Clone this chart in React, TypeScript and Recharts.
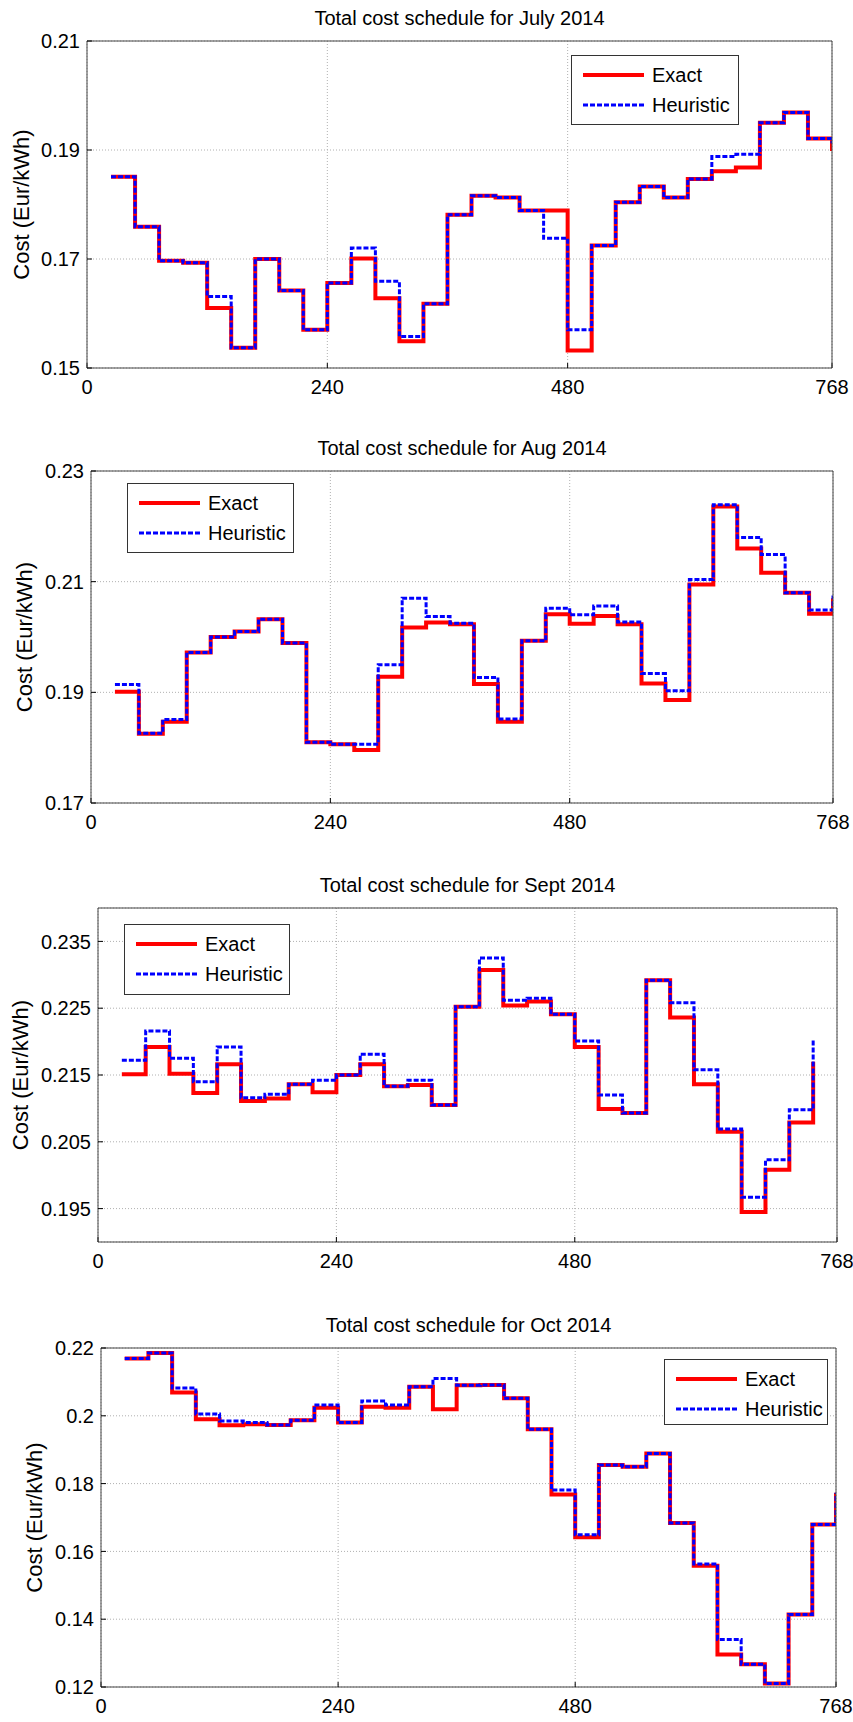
import React from 'react';
import { LineChart, Line, XAxis, YAxis, CartesianGrid } from 'recharts';

// hour marks (start of each daily step; last point closes the stairs)
const hours31 = [24, 48, 72, 96, 120, 144, 168, 192, 216, 240, 264, 288, 312, 336, 360, 384, 408, 432, 456, 480, 504, 528, 552, 576, 600, 624, 648, 672, 696, 720, 744];
const hours30 = [24, 48, 72, 96, 120, 144, 168, 192, 216, 240, 264, 288, 312, 336, 360, 384, 408, 432, 456, 480, 504, 528, 552, 576, 600, 624, 648, 672, 696, 720];

const julyExact = [0.1851, 0.1759, 0.1697, 0.1693, 0.1610, 0.1537, 0.1700, 0.1642, 0.1570, 0.1656, 0.1701, 0.1628, 0.1549, 0.1618, 0.1781, 0.1816, 0.1813, 0.1789, 0.1789, 0.1532, 0.1725, 0.1804, 0.1833, 0.1813, 0.1847, 0.1861, 0.1868, 0.1950, 0.1969, 0.1921, 0.1898];
const julyHeuristic = [0.1851, 0.1759, 0.1697, 0.1693, 0.1631, 0.1537, 0.1700, 0.1642, 0.1570, 0.1656, 0.1720, 0.1659, 0.1558, 0.1618, 0.1781, 0.1816, 0.1813, 0.1789, 0.1738, 0.1570, 0.1725, 0.1804, 0.1833, 0.1813, 0.1847, 0.1888, 0.1892, 0.1950, 0.1969, 0.1921, 0.1912];

const augExact = [0.1901, 0.1825, 0.1847, 0.1972, 0.2000, 0.2010, 0.2032, 0.1989, 0.1810, 0.1806, 0.1796, 0.1928, 0.2017, 0.2026, 0.2023, 0.1915, 0.1847, 0.1993, 0.2041, 0.2024, 0.2038, 0.2023, 0.1916, 0.1886, 0.2095, 0.2236, 0.2160, 0.2116, 0.2080, 0.2042, 0.2070];
const augHeuristic = [0.1914, 0.1826, 0.1851, 0.1972, 0.2000, 0.2010, 0.2032, 0.1989, 0.1810, 0.1806, 0.1806, 0.1950, 0.2070, 0.2037, 0.2025, 0.1927, 0.1852, 0.1993, 0.2052, 0.2040, 0.2056, 0.2027, 0.1934, 0.1903, 0.2104, 0.2239, 0.2180, 0.2149, 0.2080, 0.2049, 0.2075];

const septExact = [0.2151, 0.2192, 0.2152, 0.2123, 0.2166, 0.2111, 0.2115, 0.2136, 0.2124, 0.2150, 0.2166, 0.2133, 0.2135, 0.2105, 0.2252, 0.2307, 0.2254, 0.2260, 0.2241, 0.2192, 0.2099, 0.2093, 0.2292, 0.2236, 0.2136, 0.2065, 0.1945, 0.2008, 0.2079, 0.2170];
const septHeuristic = [0.2172, 0.2216, 0.2175, 0.2140, 0.2192, 0.2116, 0.2121, 0.2136, 0.2142, 0.2150, 0.2181, 0.2133, 0.2142, 0.2105, 0.2252, 0.2325, 0.2262, 0.2265, 0.2241, 0.2201, 0.2120, 0.2093, 0.2292, 0.2258, 0.2158, 0.2069, 0.1967, 0.2023, 0.2098, 0.2202];

const octExact = [0.2169, 0.2185, 0.2069, 0.1990, 0.1972, 0.1975, 0.1973, 0.1987, 0.2024, 0.1980, 0.2027, 0.2024, 0.2086, 0.2019, 0.2090, 0.2091, 0.2052, 0.1960, 0.1768, 0.1642, 0.1855, 0.1850, 0.1889, 0.1684, 0.1558, 0.1296, 0.1267, 0.1210, 0.1414, 0.1679, 0.1773];
const octHeuristic = [0.2169, 0.2185, 0.2082, 0.2005, 0.1985, 0.1980, 0.1973, 0.1987, 0.2032, 0.1980, 0.2044, 0.2032, 0.2086, 0.2110, 0.2090, 0.2091, 0.2052, 0.1960, 0.1781, 0.1649, 0.1855, 0.1850, 0.1889, 0.1684, 0.1563, 0.1340, 0.1267, 0.1210, 0.1414, 0.1679, 0.1773];

const xTickValues = [0, 240, 480, 744];
const xTickLabels = ['0', '240', '480', '768'];

const yTicksJuly = [0.15, 0.17, 0.19, 0.21];
const yLabelsJuly = ['0.15', '0.17', '0.19', '0.21'];
const yTicksAug = [0.17, 0.19, 0.21, 0.23];
const yLabelsAug = ['0.17', '0.19', '0.21', '0.23'];
const yTicksSept = [0.195, 0.205, 0.215, 0.225, 0.235];
const yLabelsSept = ['0.195', '0.205', '0.215', '0.225', '0.235'];
const yTicksOct = [0.12, 0.14, 0.16, 0.18, 0.2, 0.22];
const yLabelsOct = ['0.12', '0.14', '0.16', '0.18', '0.2', '0.22'];

const titles = [
  'Total cost schedule for July 2014',
  'Total cost schedule for Aug 2014',
  'Total cost schedule for Sept 2014',
  'Total cost schedule for Oct 2014',
];
const seriesNames = ['Exact', 'Heuristic'];
const yAxisTitle = 'Cost (Eur/kWh)';

const FONT = '"Liberation Sans", Arial, Helvetica, sans-serif';
const W = 853;

function buildRows(hours: number[], exact: number[], heur: number[]) {
  return hours.map((h, i) => ({ h, exact: exact[i], heuristic: heur[i] }));
}

type PanelProps = {
  title: string;
  rows: any[];
  domain: [number, number];
  yTicks: number[];
  yLabels: string[];
  L: number; R: number; T: number; B: number;
  labelX: number;
  legend: { left: number; top: number; width: number; height: number };
};

function Legend({ left, top, width, height }: PanelProps['legend']) {
  return (
    <div style={{ position: 'absolute', left, top, width, height, boxSizing: 'border-box', border: '1px solid #333', background: '#fff', fontFamily: FONT, fontSize: 20, color: '#000' }}>
      <svg width={width} height={height} style={{ position: 'absolute', left: -1, top: -1 }}>
        <line x1={12} x2={73} y1={20} y2={20} stroke="#ff0000" strokeWidth={4} />
        <line x1={12} x2={73} y1={50} y2={50} stroke="#0000ff" strokeWidth={3} strokeDasharray="5 2" />
        <text x={81} y={27} fontFamily={FONT} fontSize={20} fill="#000">{seriesNames[0]}</text>
        <text x={81} y={57} fontFamily={FONT} fontSize={20} fill="#000">{seriesNames[1]}</text>
      </svg>
    </div>
  );
}

function Panel(p: PanelProps) {
  const mTop = 39;
  const topAxisH = 1;
  const bottomAxisH = 40;
  const mBottom = 20;
  const rightAxisW = 1;
  const h = p.B - p.T + mTop + topAxisH + bottomAxisH + mBottom;
  const top = p.T - mTop - topAxisH;
  const yLabelContent = (props: any) => {
    const vb = props.viewBox || {};
    const cy = (vb.y ?? (mTop + topAxisH)) + (vb.height ?? (p.B - p.T)) / 2;
    return (
      <text x={p.labelX} y={cy} transform={`rotate(-90, ${p.labelX}, ${cy})`} textAnchor="middle" fontFamily={FONT} fontSize={22} fill="#000">
        {yAxisTitle}
      </text>
    );
  };
  const tickStyle = { fontFamily: FONT, fontSize: 20, fill: '#000' };
  return (
    <>
      <div style={{ position: 'absolute', left: p.L, width: p.R - p.L, top: p.T - 40 + 7, lineHeight: '20px', textAlign: 'center', fontFamily: FONT, fontSize: 20, color: '#000', whiteSpace: 'nowrap' }}>
        {p.title}
      </div>
      <div style={{ position: 'absolute', left: 0, top }}>
        <LineChart width={W} height={h} data={p.rows} style={{ overflow: 'visible' }} margin={{ top: mTop, right: W - p.R - rightAxisW, bottom: mBottom, left: 0 }}>
          <CartesianGrid stroke="#b0b0b0" strokeDasharray="1 2" horizontal vertical />
          <XAxis
            dataKey="h"
            type="number"
            domain={[0, 744]}
            ticks={xTickValues}
            tickFormatter={(v: number, i: number) => xTickLabels[i] ?? String(v)}
            height={bottomAxisH}
            axisLine={{ stroke: '#444' }}
            tickLine={{ stroke: '#000' }}
            tickSize={-5}
            tickMargin={17}
            tick={tickStyle}
            interval={0}
            allowDataOverflow
          />
          <XAxis
            xAxisId="top"
            orientation="top"
            dataKey="h"
            type="number"
            domain={[0, 744]}
            ticks={xTickValues}
            height={topAxisH}
            tick={false}
            axisLine={{ stroke: '#444' }}
            tickLine={{ stroke: '#000' }}
            tickSize={-5}
            interval={0}
            allowDataOverflow
          />
          <YAxis
            type="number"
            domain={p.domain}
            ticks={p.yTicks}
            tickFormatter={(v: number, i: number) => p.yLabels[i] ?? String(v)}
            width={p.L}
            axisLine={{ stroke: '#444' }}
            tickLine={{ stroke: '#000' }}
            tickSize={-5}
            tickMargin={12}
            tick={tickStyle}
            interval={0}
            allowDataOverflow
            label={{ content: yLabelContent }}
          />
          <YAxis
            yAxisId="r"
            orientation="right"
            type="number"
            domain={p.domain}
            ticks={p.yTicks}
            width={rightAxisW}
            tick={false}
            axisLine={{ stroke: '#444' }}
            tickLine={{ stroke: '#000' }}
            tickSize={-5}
            interval={0}
            allowDataOverflow
          />
          <Line type="stepAfter" dataKey="exact" name={seriesNames[0]} stroke="#ff0000" strokeWidth={4} dot={false} activeDot={false} isAnimationActive={false} strokeLinejoin="miter" />
          <Line type="stepAfter" dataKey="heuristic" name={seriesNames[1]} stroke="#0000ff" strokeWidth={3} strokeDasharray="5 2" dot={false} activeDot={false} isAnimationActive={false} strokeLinejoin="miter" />
        </LineChart>
      </div>
      <Legend {...p.legend} />
    </>
  );
}

export default function App() {
  return (
    <div style={{ position: 'relative', width: W, height: 1722, background: '#fff', overflow: 'hidden' }}>
      <style>{'html,body{margin:0;padding:0;overflow:hidden;background:#fff}'}</style>
      <Panel title={titles[0]} rows={buildRows(hours31, julyExact, julyHeuristic)} domain={[0.15, 0.21]} yTicks={yTicksJuly} yLabels={yLabelsJuly}
        L={87} R={832} T={41} B={368} labelX={29} legend={{ left: 571, top: 55, width: 168, height: 70 }} />
      <Panel title={titles[1]} rows={buildRows(hours31, augExact, augHeuristic)} domain={[0.17, 0.23]} yTicks={yTicksAug} yLabels={yLabelsAug}
        L={91} R={833} T={471} B={803} labelX={32} legend={{ left: 127, top: 483, width: 167, height: 70 }} />
      <Panel title={titles[2]} rows={buildRows(hours30, septExact, septHeuristic)} domain={[0.19, 0.24]} yTicks={yTicksSept} yLabels={yLabelsSept}
        L={98} R={837} T={908} B={1242} labelX={28} legend={{ left: 124, top: 924, width: 166, height: 71 }} />
      <Panel title={titles[3]} rows={buildRows(hours31, octExact, octHeuristic)} domain={[0.12, 0.22]} yTicks={yTicksOct} yLabels={yLabelsOct}
        L={101} R={836} T={1348} B={1687} labelX={42} legend={{ left: 664, top: 1359, width: 164, height: 66 }} />
    </div>
  );
}
